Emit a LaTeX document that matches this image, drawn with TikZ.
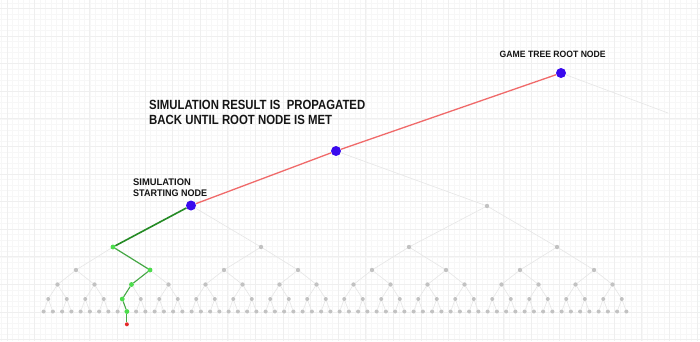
\documentclass[tikz,border=0pt]{standalone}
\usepackage{fontspec}
\setmainfont{Liberation Sans}
\usepackage{graphicx}
\usetikzlibrary{backgrounds}
\definecolor{gridmajor}{HTML}{EFEFEF}
\definecolor{gridminor}{HTML}{F7F7F7}
\definecolor{dotgray}{HTML}{C2C2C2}
\definecolor{edgegray}{HTML}{E6E6E6}
\definecolor{pathred}{HTML}{F06A6A}
\definecolor{nodeblue}{HTML}{3A0AEE}
\definecolor{darkgreen}{HTML}{248A24}
\definecolor{midgreen}{HTML}{45A845}
\definecolor{dotgreen}{HTML}{4CDD4C}
\definecolor{dotred}{HTML}{E52A2A}
\definecolor{txt}{HTML}{151515}
\begin{document}
\begin{tikzpicture}[x=1pt,y=-1pt,
  graydot/.style={circle,fill=dotgray,inner sep=0pt,minimum size=4.4pt},
  smalldot/.style={circle,fill=dotgray,inner sep=0pt,minimum size=4pt},
  bluedot/.style={circle,fill=nodeblue,inner sep=0pt,minimum size=10pt},
  greendot/.style={circle,fill=dotgreen,inner sep=0pt,minimum size=4.8pt},
  reddot/.style={circle,fill=dotred,inner sep=0pt,minimum size=4pt},
  grayedge/.style={draw=edgegray,line width=0.6pt},
  rededge/.style={draw=pathred,line width=1.3pt},
  label/.style={anchor=base west,inner sep=0pt,text=txt,font=\bfseries}
]
\useasboundingbox (0,0) rectangle (700,341);
% ---- nodes of the tree ----
\node[bluedot] (root) at (561,73) {};
\coordinate (rootright) at (668,113);
\node[bluedot] (l1) at (336,151) {};
\node[bluedot] (start) at (191,205.5) {};
\node[graydot] (r2) at (487,206) {};
\foreach \i in {0,...,3} {\node[graydot] (a\i) at ({113+148*\i},247) {};}
\foreach \i in {0,...,7} {\node[graydot] (b\i) at ({76+74*\i},270) {};}
\foreach \i in {0,...,15} {\node[graydot] (c\i) at ({57.5+37*\i},284.5) {};}
\foreach \i in {0,...,31} {\node[smalldot] (d\i) at ({48.25+18.5*\i},299) {};}
\foreach \i in {0,...,63} {\node[smalldot] (e\i) at ({43.625+9.25*\i},311.5) {};}
% green simulation path nodes (drawn over the gray ones)
\node[greendot] (g3) at (a0) {};
\node[greendot] (g4) at (b1) {};
\node[greendot] (g5) at (c2) {};
\node[greendot] (g6) at (d4) {};
\node[greendot] (g7) at (e9) {};
\node[reddot] (term) at (126.875,324.3) {};
% ---- labels ----
\node[label] (t1) at (149,109.3) {\resizebox{216pt}{9.3pt}{SIMULATION RESULT IS\ \ PROPAGATED}};
\node[label] (t2) at (149,124) {\resizebox{183pt}{9.3pt}{BACK UNTIL ROOT NODE IS MET}};
\node[label] (t3) at (499.5,57) {\resizebox{106pt}{6.4pt}{GAME TREE ROOT NODE}};
\node[label] (t4) at (133,185) {\resizebox{57.7pt}{6.7pt}{SIMULATION}};
\node[label] (t5) at (133,196.7) {\resizebox{74pt}{6.7pt}{STARTING NODE}};
% ---- background: grid and edges ----
\begin{pgfonlayer}{background}
  \fill[white] (0,0) rectangle (700,341);
  \foreach \x in {0,...,127} {\draw[gridminor,line width=0.35pt] ({1.45+5.52*\x},0) -- ({1.45+5.52*\x},341);}
  \foreach \y in {0,...,62} {\draw[gridminor,line width=0.35pt] (0,{2.8+5.52*\y}) -- (700,{2.8+5.52*\y});}
  \foreach \x in {0,...,25} {\draw[gridmajor,line width=0.5pt] ({6.9+27.6*\x},0) -- ({6.9+27.6*\x},341);}
  \foreach \y in {0,...,12} {\draw[gridmajor,line width=0.5pt] (0,{8.3+27.6*\y}) -- (700,{8.3+27.6*\y});}
  % gray tree edges
  \draw[grayedge] (root) -- (rootright);
  \draw[grayedge] (l1) -- (r2);
  \draw[grayedge] (start) -- (a1);
  \draw[grayedge] (r2) -- (a2);
  \draw[grayedge] (r2) -- (a3);
  \foreach \i in {0,...,7} {\pgfmathtruncatemacro{\p}{floor(\i/2)}\draw[grayedge] (a\p) -- (b\i);}
  \foreach \i in {0,...,15} {\pgfmathtruncatemacro{\p}{floor(\i/2)}\draw[grayedge] (b\p) -- (c\i);}
  \foreach \i in {0,...,31} {\pgfmathtruncatemacro{\p}{floor(\i/2)}\draw[grayedge] (c\p) -- (d\i);}
  \foreach \i in {0,...,63} {\pgfmathtruncatemacro{\p}{floor(\i/2)}\draw[grayedge] (d\p) -- (e\i);}
  % back-propagation path
  \draw[rededge] (start) -- (l1);
  \draw[rededge] (l1) -- (root);
  % simulation path
  \draw[darkgreen,line width=1.6pt] (start) -- (g3);
  \draw[midgreen,line width=1.2pt] (g3) -- (g4);
  \draw[midgreen,line width=1.1pt] (g4) -- (g5);
  \draw[midgreen,line width=1.1pt] (g5) -- (g6);
  \draw[midgreen,line width=1.1pt] (g6) -- (g7);
  \draw[midgreen,line width=1.1pt] (g7) -- (term);
\end{pgfonlayer}
\end{tikzpicture}
\end{document}
